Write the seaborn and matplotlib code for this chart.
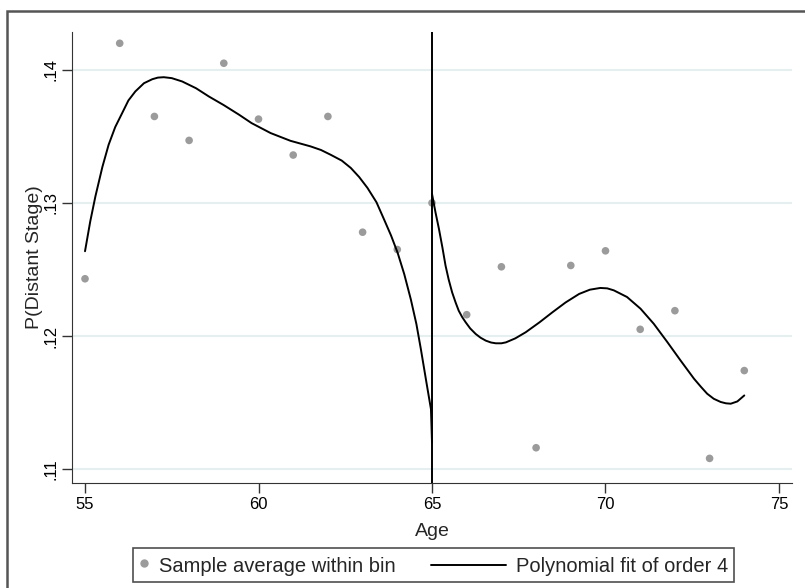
import numpy as np
import pandas as pd
import seaborn as sns
import matplotlib.pyplot as plt
from matplotlib.lines import Line2D
from matplotlib.patches import Rectangle
from matplotlib.legend_handler import HandlerBase

# bin averages
age = [55, 56, 57, 58, 59, 60, 61, 62, 63, 64, 65, 66, 67, 68, 69, 70, 71, 72, 73, 74]
p_distant = [0.1243, 0.1420, 0.1365, 0.1347, 0.1405, 0.1363, 0.1336, 0.1365, 0.1278, 0.1265,
             0.1300, 0.1216, 0.1252, 0.1116, 0.1253, 0.1264, 0.1205, 0.1219, 0.1108, 0.1174]

# order-4 fit (left and right of the cutoff)
left_x = [55.0, 55.15, 55.3, 55.5, 55.68, 55.87, 56.07, 56.25, 56.45, 56.7, 56.94, 57.1,
          57.27, 57.5, 57.8, 58.2, 58.57, 59.0, 59.44, 59.8, 60.35, 60.92, 61.5, 61.8,
          62.08, 62.4, 62.66, 62.9, 63.14, 63.4, 63.62, 63.82, 64.01, 64.2, 64.39, 64.55,
          64.68, 64.84, 64.97, 65.0]
left_fit = [0.12637, 0.1286, 0.1305, 0.1327, 0.13437, 0.1357, 0.13675, 0.1377, 0.13838,
            0.1390, 0.1393, 0.13942, 0.13945, 0.13938, 0.13913, 0.13862, 0.138, 0.13735,
            0.13663, 0.136, 0.13525, 0.13467, 0.13425, 0.13398, 0.13362, 0.13318, 0.13263,
            0.13195, 0.13113, 0.13005, 0.12875, 0.12755, 0.12625, 0.12465, 0.12275, 0.1209,
            0.119, 0.1165, 0.1145, 0.112]
right_x = [65.0, 65.1, 65.2, 65.3, 65.39, 65.48, 65.58, 65.68, 65.77, 65.87, 65.97, 66.1,
           66.26, 66.4, 66.55, 66.7, 66.84, 67.0, 67.13, 67.4, 67.7, 68.1, 68.47, 68.85,
           69.24, 69.55, 69.85, 70.05, 70.24, 70.62, 71.01, 71.39, 71.78, 72.16, 72.55,
           72.75, 72.93, 73.12, 73.32, 73.47, 73.61, 73.8, 74.0]
right_fit = [0.13068, 0.1293, 0.12805, 0.12665, 0.12529, 0.12425, 0.12328, 0.12252, 0.1219,
             0.12142, 0.12103, 0.12057, 0.12015, 0.11987, 0.11965, 0.11951, 0.11945, 0.11945,
             0.11952, 0.11982, 0.12028, 0.12103, 0.12178, 0.12252, 0.12316, 0.12348, 0.12361,
             0.12358, 0.12343, 0.12293, 0.12205, 0.12092, 0.11955, 0.11817, 0.11679, 0.11618,
             0.11566, 0.11528, 0.11504, 0.11494, 0.11491, 0.11508, 0.11553]

x_ticks = [55, 60, 65, 70, 75]
y_ticks = [0.11, 0.12, 0.13, 0.14]
y_tick_labels = ['.11', '.12', '.13', '.14']


class LongLineHandler(HandlerBase):
    # line handle that reaches further left than the handle box
    def create_artists(self, legend, orig_handle, xdescent, ydescent, width, height,
                       fontsize, trans):
        y = height / 2 - ydescent
        line = Line2D([-xdescent - 47, -xdescent + width], [y, y], color='black',
                      linewidth=1.4)
        line.set_transform(trans)
        return [line]


sns.set_style("white")
plt.rcParams['font.family'] = ['Liberation Sans', 'DejaVu Sans']

fig = plt.figure(figsize=(8.05, 5.88), dpi=100)
ax = fig.add_axes([72 / 805, 1 - 483 / 588, (792 - 72) / 805, (483 - 31.7) / 588])

bins_df = pd.DataFrame({'Age': age, 'P': p_distant})
sns.scatterplot(data=bins_df, x='Age', y='P', color='#9b9b9b', s=30, edgecolor='none',
                ax=ax, zorder=3)
sns.lineplot(x=left_x, y=left_fit, color='black', linewidth=1.4, sort=False,
             estimator=None, ax=ax, zorder=4)
sns.lineplot(x=right_x, y=right_fit, color='black', linewidth=1.4, sort=False,
             estimator=None, ax=ax, zorder=4)
ax.axvline(65, color='black', linewidth=1.4, zorder=5)

ax.set_xlim(54.625, 75.375)
ax.set_ylim(0.10895, 0.14287)
ax.set_xticks(x_ticks)
ax.set_xticklabels([str(t) for t in x_ticks], fontsize=12)
ax.set_yticks(y_ticks)
ax.set_yticklabels(y_tick_labels, fontsize=12, rotation=90, va='center')
for y in y_ticks:
    ax.axhline(y, color='#e6efef', linewidth=1.5, zorder=0)

sns.despine(ax=ax)
ax.spines['left'].set_color('#333333')
ax.spines['bottom'].set_color('#333333')
ax.tick_params(direction='out', length=7, width=1, colors='#333333', labelcolor='black',
               left=True, bottom=True, pad=3)
ax.set_xlabel('Age', fontsize=14, labelpad=8)
ax.set_ylabel('P(Distant Stage)', fontsize=14, labelpad=0)

dot = Line2D([], [], marker='o', linestyle='none', color='#9b9b9b', markersize=5)
fit_line = Line2D([], [], color='black', linewidth=1.4)
leg = fig.legend([dot, fit_line], ['Sample average within bin', 'Polynomial fit of order 4'],
                 loc='center', bbox_to_anchor=(433.5 / 805, 1 - 565 / 588), ncol=2,
                 fontsize=14.5, frameon=True, fancybox=False, handlelength=0.5,
                 handleheight=1.25, columnspacing=5.0, borderpad=0.3, handletextpad=0.5,
                 handler_map={fit_line: LongLineHandler()})
leg.get_frame().set_edgecolor('#222222')
leg.get_frame().set_linewidth(1.2)

# outer graph frame
fig.patches.append(Rectangle((7 / 805, -0.5), 2.0, 1.5 - 11 / 588,
                             transform=fig.transFigure, fill=False,
                             edgecolor='#555555', linewidth=1.8))

fig.savefig('out.png', dpi=100)
